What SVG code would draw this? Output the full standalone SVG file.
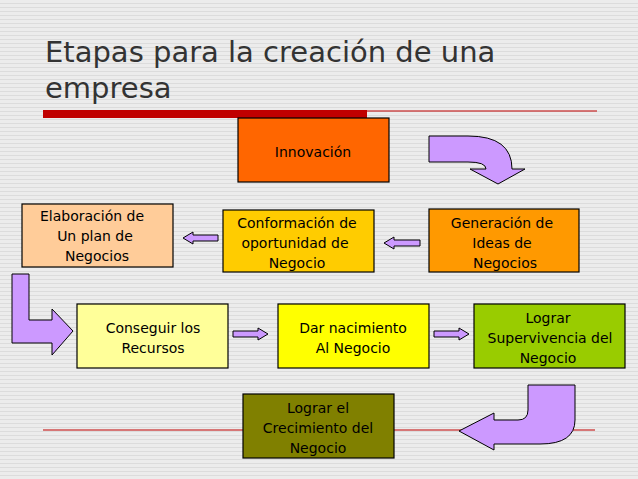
<svg xmlns="http://www.w3.org/2000/svg" width="638" height="479" viewBox="0 0 638 479">
<defs>
<pattern id="bg" width="4" height="4" patternUnits="userSpaceOnUse"><rect width="4" height="4" fill="#ececec"/><rect y="3" width="4" height="1" fill="#dcdcdc"/></pattern>
<style>
.n{stroke:#000;stroke-width:1.2}
.t{font-family:"DejaVu Sans",Verdana,sans-serif;font-size:14px;fill:#000;text-anchor:middle}
.a{fill:#cc99ff;stroke:#000;stroke-width:1}
</style>
</defs>
<rect width="638" height="479" fill="url(#bg)"/>
<text font-family="DejaVu Sans,sans-serif" font-size="29" fill="#333"><tspan x="45" y="62">Etapas para la creación de una</tspan><tspan x="45" y="98">empresa</tspan></text>
<rect x="43" y="110" width="324" height="8" fill="#c00000"/>
<line x1="367" y1="111" x2="597" y2="111" stroke="#c00000" stroke-width="1"/>
<line x1="43" y1="430" x2="595" y2="430" stroke="#c00000" stroke-width="1"/>
<g id="connectors">
<path class="a" d="M429,136 L468,136 Q512,136 512,169 L525,169 L498,184 L470,169 L486,169 Q486,162 468,162 L429,162 Z"/>
<path class="a" d="M218,235 L193,235 L193,232 L183,238 L193,244 L193,241 L218,241 Z"/>
<path class="a" d="M420,240 L394,240 L394,237 L384,243 L394,249 L394,246 L420,246 Z"/>
<path class="a" d="M12,274 L29,274 L29,320 L52,320 L52,309 L73,331 L52,355 L52,343 L12,343 Z"/>
<path class="a" d="M233,331 L258,331 L258,328 L268,334 L258,340 L258,337 L233,337 Z"/>
<path class="a" d="M434,331 L459,331 L459,328 L469,334 L459,340 L459,337 L434,337 Z"/>
<path class="a" d="M575,385 L575,420 Q575,444 540,444 L494,444 L494,450 L459,431 L494,413 L494,420 L518,420 Q528,420 528,410 L528,385 Z"/>
</g>
<g id="innovacion"><rect class="n" x="238" y="118" width="151" height="64" fill="#ff6600"/><text class="t" x="313" y="157">Innovación</text></g>
<g id="elaboracion"><rect class="n" x="22" y="204" width="151" height="63" fill="#ffcc99"/><text class="t"><tspan x="92" y="221">Elaboración de</tspan><tspan x="95" y="241">Un plan de</tspan><tspan x="97" y="261">Negocios</tspan></text></g>
<g id="conformacion"><rect class="n" x="223" y="210" width="151" height="62" fill="#ffcc00"/><text class="t"><tspan x="297" y="228">Conformación de</tspan><tspan x="295" y="248">oportunidad de</tspan><tspan x="297" y="268">Negocio</tspan></text></g>
<g id="generacion"><rect class="n" x="429" y="209" width="150" height="63" fill="#ff9900"/><text class="t"><tspan x="502" y="228">Generación de</tspan><tspan x="502" y="248">Ideas de</tspan><tspan x="505" y="268">Negocios</tspan></text></g>
<g id="conseguir"><rect class="n" x="77" y="304" width="151" height="64" fill="#ffff99"/><text class="t"><tspan x="153" y="333">Conseguir los</tspan><tspan x="153" y="353">Recursos</tspan></text></g>
<g id="dar"><rect class="n" x="278" y="304" width="151" height="64" fill="#ffff00"/><text class="t"><tspan x="353" y="333">Dar nacimiento</tspan><tspan x="353" y="353">Al Negocio</tspan></text></g>
<g id="supervivencia"><rect class="n" x="474" y="304" width="151" height="64" fill="#99cc00"/><text class="t"><tspan x="548" y="323">Lograr</tspan><tspan x="550" y="343">Supervivencia del</tspan><tspan x="548" y="363">Negocio</tspan></text></g>
<g id="crecimiento"><rect class="n" x="243" y="394" width="151" height="64" fill="#808000"/><text class="t"><tspan x="318" y="413">Lograr el</tspan><tspan x="318" y="433">Crecimiento del</tspan><tspan x="318" y="453">Negocio</tspan></text></g>
</svg>
